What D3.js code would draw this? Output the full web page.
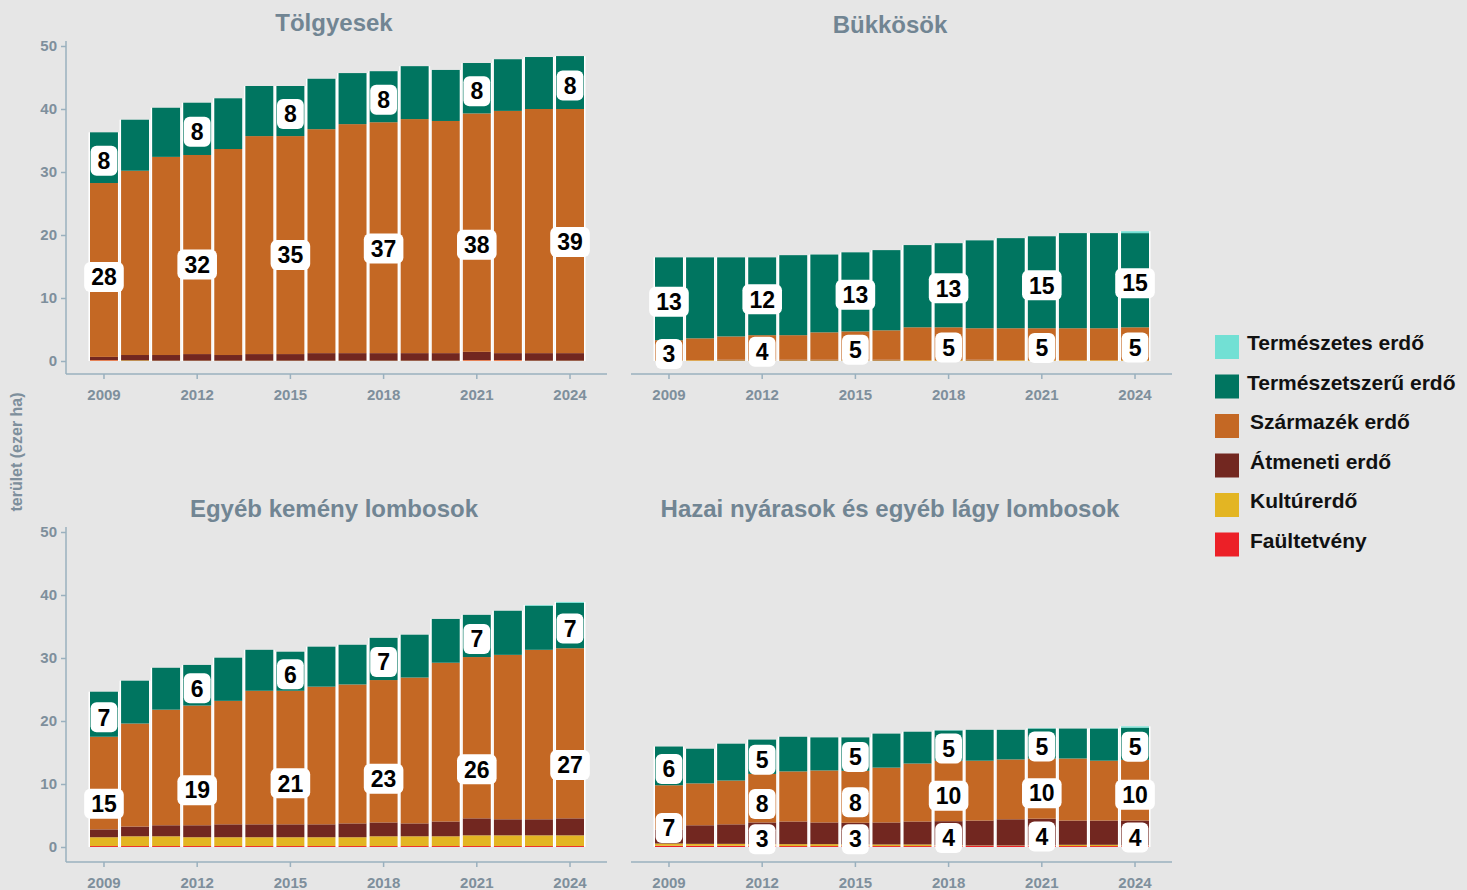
<!DOCTYPE html>
<html>
<head>
<meta charset="utf-8">
<script src="https://cdn.jsdelivr.net/npm/d3@7"></script>
<style>
  html, body { margin: 0; padding: 0; background: #e6e6e6; }
  svg { display: block; font-family: "Liberation Sans", Arial, sans-serif; }
</style>
</head>
<body>
<div id="chart"></div>
<script>
// years on the x axis
var years = [2009, 2010, 2011, 2012, 2013, 2014, 2015, 2016, 2017, 2018, 2019, 2020, 2021, 2022, 2023, 2024];
var tickYears = [2009, 2012, 2015, 2018, 2021, 2024];
var yTicks = [0, 10, 20, 30, 40, 50];

// legend order (top to bottom) and stack keys (bottom to top)
var seriesNames = ["Természetes erdő", "Természetszerű erdő", "Származék erdő", "Átmeneti erdő", "Kultúrerdő", "Faültetvény"];
var seriesColors = ["#72e0d4", "#007560", "#c46824", "#722720", "#e3b523", "#ec2027"];
var stackKeys = ["fault", "kultur", "atmeneti", "szarmazek", "termszeru", "termeszetes"];

// Tölgyesek (ezer ha)
var tolgy_fault       = [0.1, 0, 0, 0, 0, 0, 0, 0, 0, 0, 0, 0, 0.1, 0.1, 0, 0];
var tolgy_kultur      = [0.05, 0.1, 0.05, 0.05, 0.05, 0.05, 0.05, 0.05, 0.05, 0.05, 0.05, 0.05, 0.05, 0.05, 0.05, 0.05];
var tolgy_atmeneti    = [0.5, 0.85, 0.9, 1.05, 0.9, 1.05, 1.05, 1.2, 1.2, 1.2, 1.2, 1.2, 1.3, 1.1, 1.2, 1.2];
var tolgy_szarmazek   = [27.6, 29.25, 31.45, 31.6, 32.7, 34.6, 34.6, 35.55, 36.35, 36.65, 37.15, 36.85, 37.85, 38.45, 38.75, 38.75];
var tolgy_termszeru   = [8.05, 8.1, 7.8, 8.3, 8.05, 7.95, 7.95, 8.0, 8.1, 8.1, 8.4, 8.1, 8.0, 8.2, 8.25, 8.4];
var tolgy_termeszetes = [0, 0, 0, 0, 0, 0, 0, 0, 0, 0, 0, 0, 0, 0, 0, 0];

// Bükkösök
var bukk_fault       = [0, 0, 0, 0, 0, 0, 0, 0, 0, 0, 0, 0, 0, 0, 0, 0];
var bukk_kultur      = [0.1, 0.1, 0.1, 0.1, 0.1, 0.1, 0.1, 0.1, 0.1, 0.1, 0.1, 0.1, 0.1, 0.1, 0.1, 0.1];
var bukk_atmeneti    = [0.05, 0, 0.1, 0.1, 0.1, 0.1, 0.05, 0.1, 0, 0, 0.1, 0, 0, 0, 0, 0];
var bukk_szarmazek   = [3.15, 3.5, 3.7, 3.9, 3.9, 4.35, 4.55, 4.67, 5.25, 5.25, 5.0, 5.1, 5.1, 5.1, 5.1, 5.25];
var bukk_termszeru   = [13.15, 12.85, 12.55, 12.35, 12.7, 12.35, 12.55, 12.73, 13.05, 13.35, 13.95, 14.3, 14.6, 15.1, 15.1, 14.95];
var bukk_termeszetes = [0, 0, 0, 0, 0, 0, 0, 0, 0, 0, 0, 0, 0, 0, 0, 0.3];

// Egyéb kemény lombosok
var kemeny_fault       = [0.15, 0.15, 0.15, 0.15, 0.15, 0.15, 0.15, 0.15, 0.15, 0.15, 0.15, 0.15, 0.15, 0.15, 0.15, 0.15];
var kemeny_kultur      = [1.4, 1.55, 1.55, 1.4, 1.4, 1.4, 1.4, 1.4, 1.4, 1.55, 1.55, 1.55, 1.7, 1.7, 1.7, 1.7];
var kemeny_atmeneti    = [1.25, 1.55, 1.75, 1.9, 2.05, 2.05, 2.05, 2.05, 2.2, 2.2, 2.05, 2.35, 2.7, 2.55, 2.55, 2.7];
var kemeny_szarmazek   = [14.7, 16.35, 18.35, 19.0, 19.6, 21.2, 21.2, 21.85, 22.05, 22.6, 23.15, 25.2, 25.6, 26.1, 26.9, 27.0];
var kemeny_termszeru   = [7.15, 6.8, 6.65, 6.45, 6.85, 6.5, 6.2, 6.35, 6.3, 6.7, 6.8, 6.95, 6.7, 7.0, 7.0, 7.2];
var kemeny_termeszetes = [0, 0, 0, 0, 0, 0, 0, 0, 0, 0, 0, 0, 0, 0, 0.1, 0.15];

// Hazai nyárasok és egyéb lágy lombosok
var lagy_fault       = [0.2, 0.2, 0.2, 0.2, 0.15, 0.15, 0.15, 0.15, 0.15, 0.2, 0.2, 0.2, 0.2, 0.15, 0.15, 0.15];
var lagy_kultur      = [0.35, 0.3, 0.3, 0.25, 0.3, 0.3, 0.25, 0.25, 0.25, 0.1, 0.05, 0.05, 0.05, 0.2, 0.2, 0.1];
var lagy_atmeneti    = [2.25, 2.95, 3.1, 3.45, 3.6, 3.45, 3.45, 3.5, 3.65, 3.8, 3.95, 4.15, 4.25, 3.85, 3.85, 3.95];
var lagy_szarmazek   = [7.0, 6.65, 6.95, 7.7, 7.95, 8.25, 8.25, 8.7, 9.2, 9.6, 9.5, 9.5, 9.55, 9.85, 9.5, 9.65];
var lagy_termszeru   = [6.15, 5.5, 5.85, 5.45, 5.5, 5.25, 5.3, 5.4, 5.05, 4.8, 4.9, 4.7, 4.75, 4.75, 5.1, 5.1];
var lagy_termeszetes = [0, 0, 0, 0, 0, 0, 0, 0, 0, 0.05, 0, 0, 0.05, 0, 0.05, 0.2];

var W = 1467, H = 890;
var titleColor = "#718593", tickColor = "#7e8f9c", axisColor = "#9ab0be";

function rows(f, k, a, s, t, n) {
  return years.map(function(yr, i) {
    return {year: yr, fault: f[i], kultur: k[i], atmeneti: a[i], szarmazek: s[i], termszeru: t[i], termeszetes: n[i]};
  });
}

var panels = [
  {title: "Tölgyesek", data: rows(tolgy_fault, tolgy_kultur, tolgy_atmeneti, tolgy_szarmazek, tolgy_termszeru, tolgy_termeszetes),
   x0: 66, x1: 607, zero: 361, axisY: 374, titleX: 334, titleY: 31, yAxis: true},
  {title: "Bükkösök", data: rows(bukk_fault, bukk_kultur, bukk_atmeneti, bukk_szarmazek, bukk_termszeru, bukk_termeszetes),
   x0: 631, x1: 1172, zero: 361, axisY: 374, titleX: 890, titleY: 33, yAxis: false},
  {title: "Egyéb kemény lombosok", data: rows(kemeny_fault, kemeny_kultur, kemeny_atmeneti, kemeny_szarmazek, kemeny_termszeru, kemeny_termeszetes),
   x0: 66, x1: 607, zero: 847, axisY: 862, titleX: 334, titleY: 517, yAxis: true},
  {title: "Hazai nyárasok és egyéb lágy lombosok", data: rows(lagy_fault, lagy_kultur, lagy_atmeneti, lagy_szarmazek, lagy_termszeru, lagy_termeszetes),
   x0: 631, x1: 1172, zero: 847, axisY: 862, titleX: 890, titleY: 517, yAxis: false}
];

// only these series get value boxes, when the value is at least 3
var labelKeys = ["atmeneti", "szarmazek", "termszeru"];
var labelMin = 3;

var svg = d3.select("#chart").append("svg")
  .attr("width", W)
  .attr("height", H);

svg.append("rect").attr("width", W).attr("height", H).attr("fill", "#e6e6e6");

var stack = d3.stack().keys(stackKeys);

panels.forEach(function(p) {
  var g = svg.append("g");

  var x = d3.scaleBand()
    .domain(years)
    .range([p.x0 + 24, p.x1 - 23])
    .paddingInner(0.1);
  var y = d3.scaleLinear()
    .domain([0, 50])
    .range([p.zero, p.zero - 315]);

  var layers = stack(p.data);

  // title
  g.append("text")
    .attr("x", p.titleX)
    .attr("y", p.titleY)
    .attr("text-anchor", "middle")
    .attr("font-size", 24)
    .attr("font-weight", "bold")
    .attr("fill", titleColor)
    .text(p.title);

  // white separators behind each column
  var last = layers[layers.length - 1];
  g.append("g").selectAll("rect")
    .data(last)
    .enter().append("rect")
    .attr("x", function(d) { return x(d.data.year) - 1.5; })
    .attr("width", x.bandwidth() + 3)
    .attr("y", function(d) { return y(d[1]); })
    .attr("height", function(d) { return y(0) - y(d[1]); })
    .attr("fill", "#ffffff");

  // stacked segments
  g.append("g").selectAll("g")
    .data(layers)
    .enter().append("g")
    .attr("fill", function(d) { return seriesColors[seriesNames.length - 1 - stackKeys.indexOf(d.key)]; })
    .selectAll("rect")
    .data(function(d) { return d; })
    .enter().append("rect")
    .attr("x", function(d) { return x(d.data.year); })
    .attr("width", x.bandwidth())
    .attr("y", function(d) { return y(d[1]); })
    .attr("height", function(d) { return Math.max(0, y(d[0]) - y(d[1])); });

  // x axis
  g.append("line")
    .attr("x1", p.x0).attr("x2", p.x1)
    .attr("y1", p.axisY).attr("y2", p.axisY)
    .attr("stroke", axisColor).attr("stroke-width", 1.5);
  var xAxis = g.append("g")
    .attr("transform", "translate(0," + p.axisY + ")")
    .call(d3.axisBottom(x).tickValues(tickYears).tickSize(5).tickSizeOuter(0).tickPadding(10));
  xAxis.select(".domain").remove();
  xAxis.selectAll("line").attr("stroke", axisColor).attr("stroke-width", 1.5);
  xAxis.selectAll("text")
    .attr("font-size", 15).attr("font-weight", "bold")
    .attr("font-family", "'Liberation Sans', Arial, sans-serif")
    .attr("fill", tickColor);

  // y axis
  if (p.yAxis) {
    g.append("line")
      .attr("x1", p.x0).attr("x2", p.x0)
      .attr("y1", y(50) - 5).attr("y2", p.axisY)
      .attr("stroke", axisColor).attr("stroke-width", 1.5);
    var yAxis = g.append("g")
      .attr("transform", "translate(" + p.x0 + ",0)")
      .call(d3.axisLeft(y).tickValues(yTicks).tickSize(5).tickSizeOuter(0).tickPadding(4));
    yAxis.select(".domain").remove();
    yAxis.selectAll("line").attr("stroke", axisColor).attr("stroke-width", 1.5);
    yAxis.selectAll("text")
      .attr("font-size", 15).attr("font-weight", "bold")
      .attr("font-family", "'Liberation Sans', Arial, sans-serif")
      .attr("fill", tickColor);
  }

  // value labels: lower boxes stack only the labelled values,
  // the top (Természetszerű) box sits in the middle of its segment
  var labels = [];
  p.data.forEach(function(row, i) {
    if (tickYears.indexOf(row.year) < 0) return;
    var base = 0;
    labelKeys.forEach(function(k) {
      var v = row[k];
      if (v < labelMin) return;
      var mid;
      if (k === "termszeru") {
        var seg = layers[stackKeys.indexOf(k)][i];
        mid = (seg[0] + seg[1]) / 2;
      } else {
        mid = base + v / 2;
      }
      base += v;
      labels.push({x: x(row.year) + x.bandwidth() / 2, y: y(mid) + 3, text: Math.round(v)});
    });
  });
  var lg = g.append("g").selectAll("g")
    .data(labels)
    .enter().append("g")
    .attr("transform", function(d) { return "translate(" + d.x + "," + d.y + ")"; });
  var box = lg.append("rect").attr("fill", "#ffffff").attr("rx", 6).attr("ry", 6);
  var txt = lg.append("text")
    .attr("text-anchor", "middle")
    .attr("dy", "0.36em")
    .attr("font-size", 23)
    .attr("font-weight", "bold")
    .attr("fill", "#000")
    .text(function(d) { return d.text; });
  txt.each(function(d) { d.w = this.getComputedTextLength(); });
  box.attr("x", function(d) { return -d.w / 2 - 7; })
    .attr("width", function(d) { return d.w + 14; })
    .attr("y", -15)
    .attr("height", 30);
});

// y axis title
svg.append("text")
  .attr("transform", "translate(22,452) rotate(-90)")
  .attr("text-anchor", "middle")
  .attr("font-size", 16)
  .attr("font-weight", "bold")
  .attr("fill", tickColor)
  .text("terület (ezer ha)");

// legend
var legend = svg.append("g").attr("transform", "translate(1215,335)");
var item = legend.selectAll("g")
  .data(seriesNames)
  .enter().append("g")
  .attr("transform", function(d, i) { return "translate(0," + (i * 39.5) + ")"; });
item.append("rect")
  .attr("width", 24).attr("height", 24)
  .attr("fill", function(d, i) { return seriesColors[i]; });
item.append("text")
  .attr("x", function(d, i) { return i < 2 ? 32 : 35; })
  .attr("y", 15)
  .attr("font-size", 21)
  .attr("font-weight", "bold")
  .attr("fill", "#111")
  .text(function(d) { return d; });
</script>
</body>
</html>
